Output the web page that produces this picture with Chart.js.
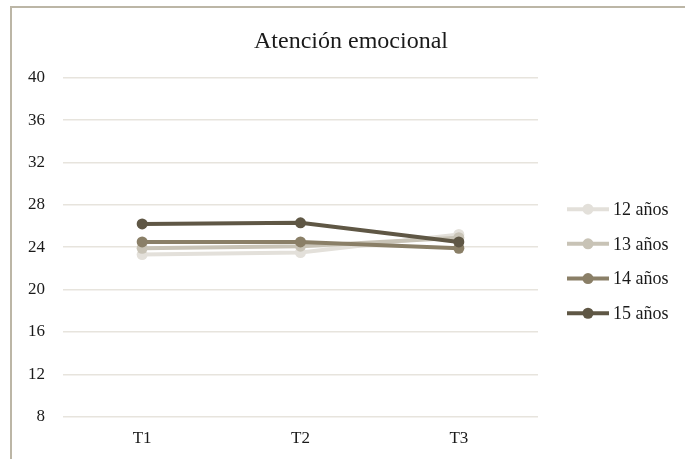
<!DOCTYPE html>
<html>
<head>
<meta charset="utf-8">
<script src="https://cdn.jsdelivr.net/npm/chart.js@4.4.1/dist/chart.umd.min.js"></script>
<style>
  html, body { margin: 0; padding: 0; background: #fff; }
  #wrap { position: relative; width: 685px; height: 459px; overflow: hidden; }
  #frame {
    position: absolute; left: 10px; top: 6px; width: 700px; height: 480px;
    border-left: 2px solid #bcb6a6; border-top: 2px solid #bcb6a6;
    box-sizing: border-box;
  }
  canvas { position: absolute; left: 0; top: 0; }
</style>
</head>
<body>
<div id="wrap">
  <div id="frame"></div>
  <canvas id="c" width="685" height="459"></canvas>
</div>
<script>
// Attention scores by age group across the three measurement times
const chartTitle = 'Atención emocional';
const timePoints = ['T1', 'T2', 'T3'];
const seriesNames = ['12 años', '13 años', '14 años', '15 años'];
const age12 = [23.3, 23.5, 25.2];
const age13 = [23.9, 24.1, 24.9];
const age14 = [24.5, 24.5, 23.9];
const age15 = [26.2, 26.3, 24.5];
const yTicks = [8, 12, 16, 20, 24, 28, 32, 36, 40];

const colors = ['#e3e0da', '#c8c3b6', '#8a7f67', '#5f5745'];
const allValues = [age12, age13, age14, age15];

const FONT = "'Liberation Serif', 'Times New Roman', serif";
const TEXT = '#1a1a1a';

const datasets = seriesNames.map((name, i) => ({
  label: name,
  data: allValues[i],
  borderColor: colors[i],
  backgroundColor: colors[i],
  borderWidth: 4,
  pointRadius: 5.5,
  pointHoverRadius: 5.5,
  pointBorderWidth: 0,
  tension: 0,
  // older groups are painted over younger ones
  order: seriesNames.length - i
}));

// Right-hand legend: a layout box that reserves the column and draws
// each series as a short line with a dot, followed by its name.
const sideLegend = {
  id: 'sideLegend',
  beforeInit(chart) {
    const box = {
      position: 'right',
      weight: 0,
      fullSize: false,
      options: { stackWeight: 1 },
      left: 0, top: 0, right: 0, bottom: 0, width: 0, height: 0,
      update(maxWidth, maxHeight) {
        this.width = 147;
        this.height = maxHeight;
        return { width: this.width, height: this.height };
      },
      beforeLayout() {},
      getPadding() { return { top: 0, left: 0, right: 0, bottom: 0 }; },
      isHorizontal() { return false; },
      draw() {
        const ctx = chart.ctx;
        const area = chart.chartArea;
        const mid = (area.top + area.bottom) / 2 + 14;
        const step = 34.7;
        const x0 = this.left + 29;
        ctx.save();
        chart.data.datasets.forEach((d, i) => {
          const y = mid + (i - 1.5) * step;
          ctx.strokeStyle = d.borderColor;
          ctx.fillStyle = d.borderColor;
          ctx.lineWidth = 4;
          ctx.beginPath();
          ctx.moveTo(x0, y);
          ctx.lineTo(x0 + 42, y);
          ctx.stroke();
          ctx.beginPath();
          ctx.arc(x0 + 21, y, 5.5, 0, Math.PI * 2);
          ctx.fill();
          ctx.fillStyle = TEXT;
          ctx.font = '18px ' + FONT;
          ctx.textBaseline = 'middle';
          ctx.textAlign = 'left';
          ctx.fillText(d.label, x0 + 46, y + 1);
        });
        ctx.restore();
      }
    };
    Chart.layouts.addBox(chart, box);
  }
};

new Chart(document.getElementById('c'), {
  type: 'line',
  data: { labels: timePoints, datasets },
  plugins: [sideLegend],
  options: {
    responsive: false,
    animation: false,
    layout: { padding: { top: 9, left: 17, right: 0, bottom: -2 } },
    plugins: {
      title: {
        display: true, text: chartTitle, color: TEXT,
        font: { family: FONT, size: 24, weight: 'normal' },
        padding: { top: 18, bottom: 22 }
      },
      legend: { display: false },
      tooltip: { enabled: false }
    },
    scales: {
      x: {
        offset: true,
        grid: { display: false, drawTicks: false },
        border: { display: false },
        ticks: { color: TEXT, font: { family: FONT, size: 17 }, padding: 12 }
      },
      y: {
        min: 8, max: 40,
        afterBuildTicks(scale) { scale.ticks = yTicks.map(v => ({ value: v })); },
        afterFit(scale) { scale.width = 46; },
        grid: { color: '#e7e4dd', lineWidth: 1.5, drawTicks: false },
        border: { display: false },
        ticks: { color: TEXT, font: { family: FONT, size: 17 }, padding: 18 }
      }
    }
  }
});
</script>
</body>
</html>
